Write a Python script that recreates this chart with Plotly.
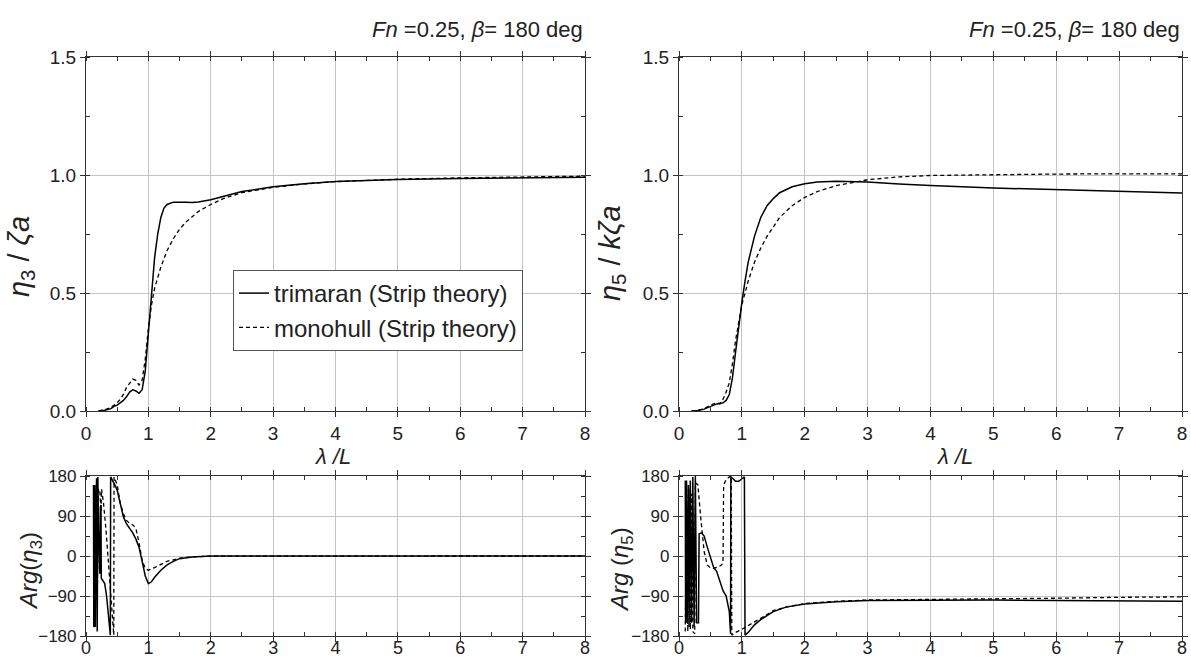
import plotly.graph_objects as go

# ---------------- data ----------------
# Heave amplitude eta3/zeta_a
lam_h_tri = [0.2, 0.3, 0.4, 0.45, 0.5, 0.55, 0.6, 0.65, 0.7, 0.75, 0.8, 0.85, 0.9, 0.95, 1.0, 1.05, 1.1, 1.15,
             1.2, 1.25, 1.3, 1.4, 1.5, 1.6, 1.7, 1.8, 2.0, 2.2, 2.5, 3.0, 3.5, 4.0, 4.5, 5.0, 6.0, 7.0, 8.0]
amp_h_tri = [0.0, 0.003, 0.01, 0.02, 0.025, 0.035, 0.045, 0.06, 0.08, 0.09, 0.085, 0.075, 0.09, 0.17, 0.32, 0.5,
             0.65, 0.75, 0.82, 0.86, 0.875, 0.885, 0.886, 0.885, 0.884, 0.886, 0.895, 0.91, 0.93, 0.95, 0.963,
             0.972, 0.977, 0.981, 0.985, 0.987, 0.99]
lam_h_mono = [0.2, 0.3, 0.4, 0.45, 0.5, 0.55, 0.6, 0.65, 0.7, 0.75, 0.8, 0.85, 0.9, 0.95, 1.0, 1.05, 1.1, 1.2, 1.3,
              1.4, 1.5, 1.6, 1.8, 2.0, 2.2, 2.5, 3.0, 3.5, 4.0, 5.0, 6.0, 7.0, 8.0]
amp_h_mono = [0.0, 0.005, 0.015, 0.025, 0.035, 0.05, 0.07, 0.1, 0.12, 0.135, 0.13, 0.11, 0.13, 0.22, 0.35, 0.45,
              0.52, 0.61, 0.68, 0.73, 0.77, 0.8, 0.845, 0.875, 0.9, 0.925, 0.948, 0.962, 0.972, 0.982, 0.988,
              0.991, 0.995]

# Pitch amplitude eta5/(k zeta_a)
lam_p_tri = [0.2, 0.3, 0.4, 0.5, 0.6, 0.7, 0.75, 0.8, 0.85, 0.9, 0.95, 1.0, 1.05, 1.1, 1.2, 1.3, 1.4, 1.5, 1.6,
             1.8, 2.0, 2.2, 2.5, 2.8, 3.0, 3.5, 4.0, 5.0, 6.0, 7.0, 8.0]
amp_p_tri = [0.0, 0.002, 0.008, 0.02, 0.03, 0.035, 0.045, 0.07, 0.14, 0.25, 0.36, 0.46, 0.55, 0.63, 0.74, 0.82,
             0.87, 0.9, 0.925, 0.95, 0.963, 0.97, 0.974, 0.972, 0.97, 0.962, 0.955, 0.945, 0.938, 0.93, 0.924]
lam_p_mono = [0.2, 0.3, 0.4, 0.5, 0.6, 0.65, 0.7, 0.75, 0.8, 0.85, 0.9, 0.95, 1.0, 1.05, 1.1, 1.2, 1.3, 1.4, 1.5,
              1.6, 1.8, 2.0, 2.2, 2.5, 3.0, 3.5, 4.0, 5.0, 6.0, 7.0, 8.0]
amp_p_mono = [0.0, 0.003, 0.01, 0.025, 0.035, 0.03, 0.05, 0.08, 0.12, 0.2, 0.3, 0.38, 0.45, 0.5, 0.55, 0.63, 0.69,
              0.74, 0.78, 0.82, 0.87, 0.905, 0.93, 0.955, 0.98, 0.992, 0.998, 1.002, 1.004, 1.005, 1.005]

# Heave phase Arg(eta3) [deg]
lam_ph3_tri = [0.12, 0.125, 0.13, 0.135, 0.14, 0.15, 0.16, 0.17, 0.18, 0.19, 0.2, 0.22, 0.23, 0.24, 0.245, 0.27,
               0.3, 0.33, 0.36, 0.39, 0.395, 0.43, 0.47, 0.5, 0.55, 0.6, 0.65, 0.7, 0.75, 0.8, 0.85, 0.9, 0.95,
               1.0, 1.05, 1.1, 1.2, 1.3, 1.4, 1.5, 1.7, 2.0, 3.0, 4.0, 5.0, 6.0, 7.0, 8.0]
ph3_tri = [160, -160, 155, -155, 160, -160, 120, 175, -170, 178, 60, -40, 110, 115, -50, -55,
           -62, -90, -130, -178, 178, 170, 158, 148, 115, 88, 72, 62, 52, 38, 20, -12, -45,
           -62, -58, -48, -32, -20, -12, -6, -2, 0, 0, 0, 0, 0, 0, 0]
lam_ph3_mono = [0.15, 0.16, 0.18, 0.2, 0.22, 0.24, 0.25, 0.28, 0.32, 0.36, 0.4, 0.43, 0.445, 0.45, 0.5, 0.55, 0.6,
                0.65, 0.7, 0.75, 0.8, 0.85, 0.9, 0.95, 1.0, 1.1, 1.2, 1.3, 1.5, 1.7, 2.0, 3.0, 4.0, 5.0, 6.0,
                7.0, 8.0]
ph3_mono = [-150, 140, -100, 150, 150, 100, 150, 120, 60, -20, -100, -160, -178, 178, 160, 118, 95,
            80, 73, 70, 62, 30, -10, -28, -32, -26, -19, -12, -5, -2, -0.5, 0, 0, 0, 0,
            0, 0]

# Pitch phase Arg(eta5) [deg]
lam_ph5_tri = [0.1, 0.105, 0.12, 0.13, 0.15, 0.16, 0.18, 0.2, 0.22, 0.24, 0.26, 0.28, 0.31, 0.32, 0.36, 0.4,
               0.45, 0.5, 0.55, 0.6, 0.65, 0.7, 0.75, 0.8, 0.82, 0.825, 0.85, 0.9, 0.95, 1.0, 1.04, 1.05, 1.1,
               1.2, 1.3, 1.5, 1.7, 2.0, 2.5, 3.0, 4.0, 5.0, 6.0, 7.0, 8.0]
ph5_tri = [170, -150, 170, -150, 160, -160, 170, -150, 178, -160, 180, -150, -150, 50, 52, 45,
           20, -5, -25, -35, -55, -78, -90, -125, -175, 178, 175, 168, 168, 174, 178, -178, -172,
           -155, -143, -125, -115, -108, -103, -100, -99, -99, -100, -101, -102]
lam_ph5_mono = [0.1, 0.12, 0.14, 0.16, 0.18, 0.2, 0.22, 0.25, 0.26, 0.3, 0.35, 0.4, 0.45, 0.5, 0.55, 0.62, 0.68,
                0.7, 0.71, 0.75, 0.8, 0.83, 0.84, 0.9, 1.0, 1.1, 1.2, 1.3, 1.5, 1.7, 2.0, 2.5, 3.0, 4.0, 5.0,
                6.0, 7.0, 8.0]
ph5_mono = [-170, 150, -170, 150, -165, 140, -170, -175, 165, 160, 80, 10, -20, -27, -28, -25, -20,
            -15, 160, 172, 178, 180, -178, -172, -165, -157, -148, -140, -123, -115, -107, -102, -99, -98, -96,
            -95, -93, -92]

x_ticks = [0, 1, 2, 3, 4, 5, 6, 7, 8]
title_text = "<i>Fn</i> =0.25, <i>β</i>= 180 deg"
xlabel = "<i>λ /L</i>"
ylabel_h = "<i>η</i><sub>3</sub> / <i>ζa</i>"
ylabel_p = "<i>η</i><sub>5</sub> / <i>kζa</i>"
ylabel_ph3 = "<i>Arg</i>(<i>η</i><sub>3</sub>)"
ylabel_ph5 = "<i>Arg</i> (<i>η</i><sub>5</sub>)"
name_tri = "trimaran (Strip theory)"
name_mono = "monohull (Strip theory)"

# ---------------- figure ----------------
W, H = 1191, 660
FONT = "Liberation Sans, Arial, sans-serif"

def px_x(p):
    return p / W

def px_y(p):
    return (H - p) / H

fig = go.Figure()

solid = dict(color="black", width=1.5)
dashed = dict(color="black", width=1.3, dash="4px,3px")

sets = [
    ("x", "y", lam_h_tri, amp_h_tri, lam_h_mono, amp_h_mono, True),
    ("x2", "y2", lam_p_tri, amp_p_tri, lam_p_mono, amp_p_mono, False),
    ("x3", "y3", lam_ph3_tri, ph3_tri, lam_ph3_mono, ph3_mono, False),
    ("x4", "y4", lam_ph5_tri, ph5_tri, lam_ph5_mono, ph5_mono, False),
]
for xa, ya, lt, vt, lm, vm, show in sets:
    fig.add_trace(go.Scatter(x=lt, y=vt, mode="lines", line=solid, name=name_tri,
                             showlegend=show, legendgroup="tri", xaxis=xa, yaxis=ya))
    fig.add_trace(go.Scatter(x=lm, y=vm, mode="lines", line=dashed, name=name_mono,
                             showlegend=show, legendgroup="mono", xaxis=xa, yaxis=ya))

common = dict(
    showline=True, linecolor="#333", linewidth=1.2, mirror="allticks",
    ticks="outside", ticklen=5, tickcolor="#333", tickwidth=1,
    showgrid=True, gridcolor="#c4c4c4", gridwidth=1, zeroline=False,
    automargin=False,
)

def xax(domain, anchor, standoff_lbl=0, fsize=19):
    return dict(common, domain=domain, anchor=anchor, range=[0, 8], tickvals=x_ticks,
                ticklabelstandoff=standoff_lbl,
                tickfont=dict(size=fsize, color="#222", family=FONT),
                minor=dict(dtick=0.5, ticks="inside", ticklen=4, tickcolor="#333", showgrid=False))

def yax(domain, anchor, rng, dt, mdt, fmt, fsize):
    return dict(common, domain=domain, anchor=anchor, range=rng, dtick=dt, tickformat=fmt,
                tickfont=dict(size=fsize, color="#222", family=FONT),
                minor=dict(dtick=mdt, ticks="inside", ticklen=4, tickcolor="#333", showgrid=False))

xl = [px_x(86), px_x(585)]
xr = [px_x(679), px_x(1182)]
yt = [px_y(411), px_y(57)]
yb = [px_y(636), px_y(476)]

def ann(text, x, y, size, angle=0, xanchor="center"):
    return dict(text=text, x=px_x(x), y=px_y(y), xref="paper", yref="paper",
                xanchor=xanchor, yanchor="middle", showarrow=False, textangle=angle,
                font=dict(size=size, color="#222", family=FONT))

fig.update_layout(
    width=W, height=H,
    margin=dict(l=0, r=0, t=0, b=0),
    paper_bgcolor="white", plot_bgcolor="white",
    font=dict(family=FONT, color="#222"),
    xaxis=xax(xl, "y"),
    yaxis=yax(yt, "x", [0, 1.5], 0.5, 0.25, ".1f", 19),
    xaxis2=xax(xr, "y2"),
    yaxis2=yax(yt, "x2", [0, 1.5], 0.5, 0.25, ".1f", 19),
    xaxis3=xax(xl, "y3", standoff_lbl=-10, fsize=18),
    yaxis3=yax(yb, "x3", [-180, 180], 90, 45, "d", 17),
    xaxis4=xax(xr, "y4", standoff_lbl=-10, fsize=18),
    yaxis4=yax(yb, "x4", [-180, 180], 90, 45, "d", 17),
    legend=dict(x=px_x(233), y=px_y(270), xanchor="left", yanchor="top",
                bgcolor="white", bordercolor="#555", borderwidth=1,
                font=dict(size=24, color="#222", family=FONT),
                tracegroupgap=0),
    annotations=[
        ann(title_text, 585, 30, 22, xanchor="right"),
        ann(title_text, 1182, 30, 22, xanchor="right"),
        ann(xlabel, 333, 456, 22),
        ann(xlabel, 955, 456, 22),
        ann(ylabel_h, 21, 257, 29, angle=-90),
        ann(ylabel_p, 612, 253, 29, angle=-90),
        ann(ylabel_ph3, 30, 571, 24, angle=-90),
        ann(ylabel_ph5, 621, 570, 24, angle=-90),
    ],
)

fig.write_html("out.html")
